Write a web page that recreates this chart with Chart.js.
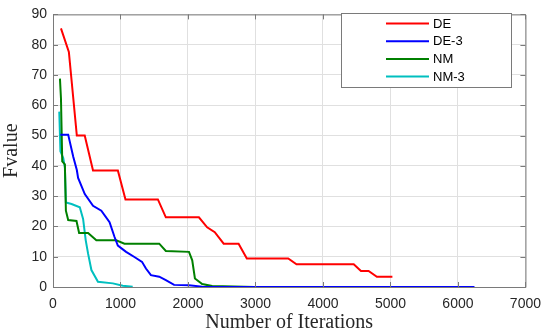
<!DOCTYPE html>
<html>
<head>
<meta charset="utf-8">
<style>
html,body{margin:0;padding:0;background:#fff;}
#wrap{width:550px;height:336px;}
</style>
<script src="https://cdn.jsdelivr.net/npm/chart.js@4.4.1/dist/chart.umd.min.js"></script>
</head>
<body>
<div id="wrap"><canvas id="c" width="550" height="336"></canvas></div>
<script>
const seriesNames = ['DE', 'DE-3', 'NM', 'NM-3'];
const seriesColors = ['#ff0000', '#0000ff', '#008000', '#00bfbf'];

const deX = [118, 235, 353, 470, 593, 961, 1074, 1554, 1672, 2162, 2284, 2397, 2529, 2750, 2872, 3485, 3608, 4456, 4563, 4676, 4799, 5029];
const deY = [85.4, 77.6, 50, 50, 38.5, 38.5, 28.9, 28.9, 23, 23, 19.7, 18.1, 14.3, 14.3, 9.4, 9.4, 7.5, 7.5, 5.3, 5.3, 3.4, 3.4];

const de3X = [110, 225, 300, 353, 372, 471, 593, 716, 838, 912, 961, 1083, 1206, 1319, 1377, 1451, 1574, 1672, 1794, 2015, 2211, 6245];
const de3Y = [50.3, 50.3, 43, 38.6, 36, 30.7, 26.8, 25.2, 21.4, 16.5, 13.7, 11.6, 9.9, 8.3, 6.1, 3.9, 3.4, 2.3, 0.7, 0.6, 0.1, 0];

const nmX = [103, 118, 137, 176, 191, 225, 348, 387, 520, 642, 936, 1059, 1574, 1672, 2015, 2063, 2103, 2211, 2358, 2985];
const nmY = [68.8, 62.3, 41.5, 40.5, 25.2, 22.1, 21.8, 17.8, 17.8, 15.4, 15.4, 14.3, 14.3, 11.9, 11.6, 8.8, 2.8, 1, 0.3, 0];

const nm3X = [93, 110, 152, 176, 191, 275, 397, 446, 485, 520, 569, 666, 887, 1034, 1181];
const nm3Y = [57.9, 44.8, 42.6, 39.4, 27.9, 27.4, 26.3, 22.5, 15.4, 11, 5.6, 1.7, 1.2, 0.4, 0.1];

const xTicks = [0, 1000, 2000, 3000, 4000, 5000, 6000, 7000];
const yTicks = [0, 10, 20, 30, 40, 50, 60, 70, 80, 90];

const allX = [deX, de3X, nmX, nm3X];
const allY = [deY, de3Y, nmY, nm3Y];

const datasets = seriesNames.map((name, i) => ({
  label: name,
  data: allX[i].map((x, j) => ({x: x, y: allY[i][j]})),
  borderColor: seriesColors[i],
  backgroundColor: seriesColors[i],
  borderWidth: 2,
  pointRadius: 0,
  tension: 0,
  fill: false
}));

const frameColor = '#7a7a7a';

const framePlugin = {
  id: 'frame',
  afterDatasetsDraw(chart) {
    const {ctx, chartArea: a, scales} = chart;
    ctx.save();
    ctx.strokeStyle = frameColor;
    ctx.lineWidth = 1;
    ctx.beginPath();
    ctx.moveTo(a.left + 0.5, a.top + 0.5);
    ctx.lineTo(a.right + 0.5, a.top + 0.5);
    ctx.lineTo(a.right + 0.5, a.bottom + 0.5);
    ctx.lineTo(a.left + 0.5, a.bottom + 0.5);
    ctx.closePath();
    ctx.stroke();
    const tl = 5;
    ctx.beginPath();
    xTicks.forEach(v => {
      const px = Math.round(scales.x.getPixelForValue(v)) + 0.5;
      ctx.moveTo(px, a.bottom); ctx.lineTo(px, a.bottom - tl);
      ctx.moveTo(px, a.top); ctx.lineTo(px, a.top + tl);
    });
    yTicks.forEach(v => {
      const py = Math.round(scales.y.getPixelForValue(v)) + 0.5;
      ctx.moveTo(a.left, py); ctx.lineTo(a.left + tl, py);
      ctx.moveTo(a.right, py); ctx.lineTo(a.right - tl, py);
    });
    ctx.stroke();

    // legend box
    const bx = 341, by = 13, bw = 170, bh = 74;
    ctx.fillStyle = '#ffffff';
    ctx.fillRect(bx, by, bw, bh);
    ctx.strokeStyle = '#7a7a7a';
    ctx.strokeRect(bx + 0.5, by + 0.5, bw, bh);
    ctx.font = '13px "Liberation Sans", Arial, sans-serif';
    ctx.textBaseline = 'middle';
    ctx.textAlign = 'left';
    seriesNames.forEach((name, i) => {
      const y = by + 10.5 + i * 17.7;
      ctx.strokeStyle = seriesColors[i];
      ctx.lineWidth = 2;
      ctx.beginPath();
      ctx.moveTo(386, y); ctx.lineTo(429, y);
      ctx.stroke();
      ctx.fillStyle = '#000000';
      ctx.fillText(name, 433, y + 0.5);
    });
    ctx.restore();
  }
};

new Chart(document.getElementById('c'), {
  type: 'line',
  data: {datasets},
  options: {
    responsive: false,
    animation: false,
    events: [],
    layout: {padding: {top: 12, right: 21, left: 0, bottom: 0}},
    plugins: {legend: {display: false}, tooltip: {enabled: false}},
    scales: {
      x: {
        type: 'linear',
        min: 0, max: 7000,
        afterFit(s) { s.height = 49; },
        afterBuildTicks(s) { s.ticks = xTicks.map(v => ({value: v})); },
        ticks: {
          color: '#262626',
          font: {family: '"Liberation Sans", Arial, sans-serif', size: 14},
          padding: 9,
          maxRotation: 0,
          autoSkip: false,
          callback: v => String(v)
        },
        grid: {color: '#e0e0e0', drawTicks: false},
        border: {display: false},
        title: {
          display: true,
          text: 'Number of Iterations',
          color: '#262626',
          font: {family: '"Liberation Serif", "Times New Roman", serif', size: 20, lineHeight: 1.2},
          padding: {top: 0, bottom: 1}
        }
      },
      y: {
        type: 'linear',
        min: 0, max: 90,
        afterFit(s) { s.width = 53; },
        afterBuildTicks(s) { s.ticks = yTicks.map(v => ({value: v})); },
        ticks: {
          color: '#262626',
          font: {family: '"Liberation Sans", Arial, sans-serif', size: 14},
          padding: 6,
          autoSkip: false,
          callback: v => String(v)
        },
        grid: {color: '#e0e0e0', drawTicks: false},
        border: {display: false},
        title: {
          display: true,
          text: 'Fvalue',
          color: '#262626',
          font: {family: '"Liberation Serif", "Times New Roman", serif', size: 20, lineHeight: 1.2},
          padding: {top: 0, bottom: 0}
        }
      }
    }
  },
  plugins: [framePlugin]
});
</script>
</body>
</html>
